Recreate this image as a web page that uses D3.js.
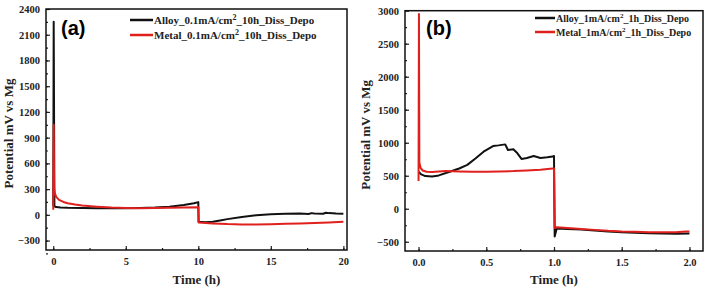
<!DOCTYPE html>
<meta charset="utf-8">
<script src="https://d3js.org/d3.v7.min.js"></script>
<style>
  body { margin: 0; background: #fff; }
  .tk path { display: none; }
  .tk line { stroke: #222; stroke-width: 1.2; }
</style>
<div id="my_dataviz"></div>
<script>

// ---- panel (a) data : 0.1 mA/cm2, 10 h ----
var alloyA_t = [0, 0.03, 0.08, 0.2, 0.5, 1, 2, 3, 4, 5, 6, 7, 8, 9, 9.7, 10, 10.02, 10.5, 11, 11.5, 12, 13, 14, 15, 16, 17, 17.6, 17.8, 18, 18.6, 18.8, 19, 19.5, 20]
var alloyA_v = [100, 2250, 100, 90, 85, 82, 80, 78, 78, 78, 80, 85, 95, 115, 135, 148, -80, -85, -80, -65, -50, -25, -5, 8, 12, 15, 10, 20, 15, 12, 25, 20, 15, 12]
var metalA_t = [0, 0.03, 0.06, 0.1, 0.2, 0.4, 0.7, 1, 1.5, 2, 3, 4, 5, 6, 7, 8, 9, 10, 10.02, 11, 12, 13, 14, 15, 16, 17, 18, 19, 20]
var metalA_v = [60, 1050, 320, 260, 210, 175, 150, 135, 120, 108, 95, 85, 80, 78, 80, 82, 85, 88, -90, -100, -108, -112, -112, -110, -105, -100, -95, -88, -80]

// ---- panel (b) data : 1 mA/cm2, 1 h ----
var alloyB_t = [0, 0.02, 0.05, 0.1, 0.15, 0.23, 0.3, 0.36, 0.42, 0.48, 0.55, 0.59, 0.64, 0.66, 0.7, 0.73, 0.76, 0.8, 0.85, 0.9, 0.95, 0.99, 1.0, 1.005, 1.02, 1.1, 1.2, 1.3, 1.4, 1.5, 1.6, 1.7, 1.8, 1.9, 2.0]
var alloyB_v = [560, 520, 495, 490, 505, 560, 610, 665, 760, 865, 950, 960, 975, 890, 900, 840, 755, 770, 800, 770, 780, 790, 800, -420, -300, -305, -315, -330, -345, -355, -365, -370, -375, -378, -375]
var metalB_t = [0, 0.003, 0.006, 0.015, 0.03, 0.06, 0.1, 0.2, 0.3, 0.4, 0.5, 0.6, 0.7, 0.8, 0.9, 0.99, 1.0, 1.005, 1.02, 1.1, 1.2, 1.3, 1.4, 1.5, 1.6, 1.7, 1.8, 1.9, 1.97, 2.0]
var metalB_v = [420, 2950, 700, 620, 580, 560, 555, 570, 565, 560, 560, 565, 570, 580, 590, 610, 610, -290, -280, -290, -305, -320, -335, -345, -350, -355, -355, -355, -345, -345]

// tick values
var yTicksA = [-300, 0, 300, 600, 900, 1200, 1500, 1800, 2100, 2400]
var xTicksA = [0, 5, 10, 15, 20]
var yTicksB = [-500, 0, 500, 1000, 1500, 2000, 2500, 3000]
var xTicksB = [0, 0.5, 1.0, 1.5, 2.0]

var serif = "'Liberation Serif', 'DejaVu Serif', serif"

var svg = d3.select("#my_dataviz")
  .append("svg")
    .attr("width", 706)
    .attr("height", 291)

function zip(t, v) { return t.map(function(d, i) { return [d, v[i]]; }); }

function styleTicks(g) {
  g.attr("font-family", null).attr("font-size", null)
  g.selectAll("text")
    .style("font-family", serif).style("font-weight", "bold")
    .style("font-size", "10.5px").attr("fill", "#222")
}

function panel(cfg) {
  var x = d3.scaleLinear().domain(cfg.xDom).range([cfg.left, cfg.right])
  var y = d3.scaleLinear().domain(cfg.yDom).range([cfg.bottom, cfg.top])

  // minor ticks
  svg.append("g").attr("class", "tk")
    .attr("transform", "translate(0," + cfg.bottom + ")")
    .call(d3.axisBottom(x).tickValues(cfg.xMinor).tickSize(-2).tickFormat(""))
  svg.append("g").attr("class", "tk")
    .attr("transform", "translate(" + cfg.left + ",0)")
    .call(d3.axisLeft(y).tickValues(cfg.yMinor).tickSize(-2).tickFormat(""))

  // major ticks + labels
  svg.append("g").attr("class", "tk")
    .attr("transform", "translate(0," + cfg.bottom + ")")
    .call(d3.axisBottom(x).tickValues(cfg.xTicks).tickSize(-4).tickPadding(8).tickFormat(cfg.xFmt))
    .call(styleTicks)
  svg.append("g").attr("class", "tk")
    .attr("transform", "translate(" + cfg.left + ",0)")
    .call(d3.axisLeft(y).tickValues(cfg.yTicks).tickSize(-4).tickPadding(6).tickFormat(d3.format("d")))
    .call(styleTicks)

  // frame
  svg.append("rect")
    .attr("x", cfg.left).attr("y", cfg.top)
    .attr("width", cfg.right - cfg.left).attr("height", cfg.bottom - cfg.top)
    .attr("fill", "none").attr("stroke", "#111").attr("stroke-width", 1.5)

  var line = d3.line().x(function(d) { return x(d[0]); }).y(function(d) { return y(d[1]); })
  cfg.series.forEach(function(s) {
    svg.append("path")
      .datum(s.data)
      .attr("fill", "none")
      .attr("stroke", s.color)
      .attr("stroke-width", 2)
      .attr("stroke-linejoin", "round")
      .attr("d", line)
  })

  // legend
  cfg.series.forEach(function(s, i) {
    var ly = cfg.legY + i * cfg.legGap
    svg.append("line")
      .attr("x1", cfg.legX).attr("x2", cfg.legX + cfg.legLen)
      .attr("y1", ly).attr("y2", ly)
      .attr("stroke", s.color).attr("stroke-width", 2.5)
    var t = svg.append("text")
      .attr("x", cfg.legX + cfg.legLen + 1).attr("y", ly + 3.5)
      .style("font-family", serif).style("font-weight", "bold")
      .style("font-size", cfg.legFont + "px").attr("fill", "#222")
    t.append("tspan").text(s.name[0])
    t.append("tspan").attr("dy", -4).style("font-size", (cfg.legFont - 3) + "px").text("2")
    t.append("tspan").attr("dy", 4).text(s.name[1])
  })

  // panel letter
  svg.append("text")
    .attr("x", cfg.labX).attr("y", cfg.labY)
    .style("font-family", "'Liberation Sans', Arial, sans-serif").style("font-weight", "bold")
    .style("font-size", "20px").text(cfg.label)

  // axis titles
  svg.append("text")
    .attr("transform", "translate(" + cfg.yTitleX + "," + ((cfg.top + cfg.bottom) / 2 + 4) + ") rotate(-90)")
    .attr("text-anchor", "middle")
    .style("font-family", serif).style("font-weight", "bold").style("font-size", "13px")
    .attr("fill", "#222")
    .text("Potential mV vs Mg")
  svg.append("text")
    .attr("x", (cfg.left + cfg.right) / 2).attr("y", 284)
    .attr("text-anchor", "middle")
    .style("font-family", serif).style("font-weight", "bold").style("font-size", "13px")
    .attr("fill", "#222")
    .text("Time (h)")
}

panel({
  left: 46, right: 347, top: 9, bottom: 250,
  xDom: [-0.5, 20.25], yDom: [-410, 2400],
  xTicks: xTicksA, xMinor: d3.range(0, 20.1, 2.5), xFmt: d3.format("d"),
  yTicks: yTicksA, yMinor: d3.range(-450, 2400, 150),
  series: [
    {name: ["Alloy_0.1mA/cm", "_10h_Diss_Depo"], color: "#111", data: zip(alloyA_t, alloyA_v)},
    {name: ["Metal_0.1mA/cm", "_10h_Diss_Depo"], color: "#e0201c", data: zip(metalA_t, metalA_v)}
  ],
  legX: 130, legLen: 23, legY: 20, legGap: 15, legFont: 11,
  label: "(a)", labX: 61, labY: 35, yTitleX: 13
})

panel({
  left: 405, right: 703, top: 10.7, bottom: 251,
  xDom: [-0.1, 2.1], yDom: [-640, 3000],
  xTicks: xTicksB, xMinor: d3.range(0, 2.01, 0.25), xFmt: d3.format(".1f"),
  yTicks: yTicksB, yMinor: d3.range(-500, 3000, 250),
  series: [
    {name: ["Alloy_1mA/cm", "_1h_Diss_Depo"], color: "#111", data: zip(alloyB_t, alloyB_v)},
    {name: ["Metal_1mA/cm", "_1h_Diss_Depo"], color: "#e0201c", data: zip(metalB_t, metalB_v)}
  ],
  legX: 535, legLen: 20, legY: 18, legGap: 14, legFont: 10,
  label: "(b)", labX: 426, labY: 35, yTitleX: 370
})

</script>
